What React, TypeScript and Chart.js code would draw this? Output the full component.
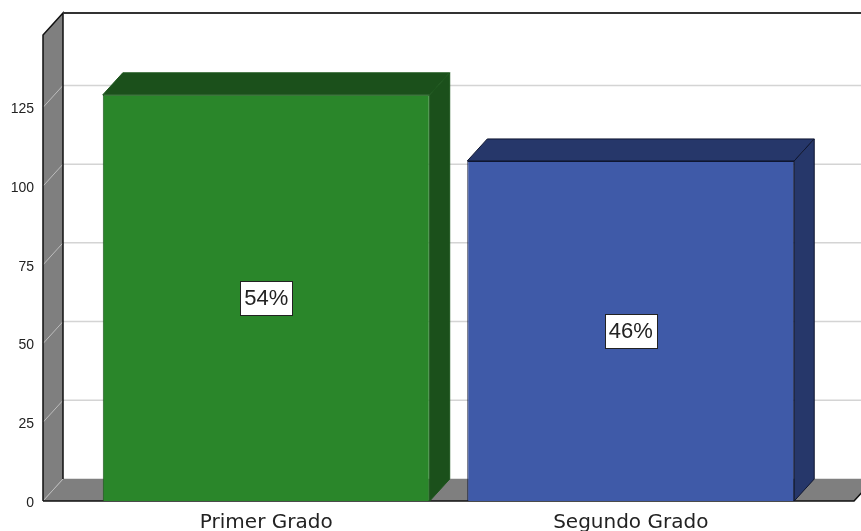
import React, { useEffect, useRef } from 'react';
import { Chart, registerables } from 'chart.js';

Chart.register(...registerables);

const categories = ['Primer Grado', 'Segundo Grado'];
const counts = [129, 108];
const frontColors = ['#2A862A', '#3F5AA8'];
const shadeColors = ['#1B501B', '#26376A'];
const edgeColors = ['#1D561D', '#0F1630'];
const yTickValues = [0, 25, 50, 75, 100, 125];
const yMax = 148;

const DX = 20;
const DY = 22;
const EXTRA = 41;
const WALL = '#7F7F7F';

const threeD = {
  id: 'threeD',
  beforeDatasetsDraw(chart: any) {
    const { ctx, chartArea: a, scales } = chart;
    const y = scales.y;
    const L = a.left - EXTRA;
    const R = a.right + EXTRA;
    const top = y.getPixelForValue(yMax);
    const base = y.getPixelForValue(0);
    ctx.save();
    // back wall gridlines
    ctx.lineWidth = 1.5;
    ctx.strokeStyle = '#D4D4D4';
    for (const v of yTickValues) {
      const py = y.getPixelForValue(v) - DY;
      ctx.beginPath();
      ctx.moveTo(L + DX, py);
      ctx.lineTo(chart.width, py);
      ctx.stroke();
    }
    // floor
    ctx.fillStyle = WALL;
    ctx.beginPath();
    ctx.moveTo(L, base);
    ctx.lineTo(R, base);
    ctx.lineTo(R + DX, base - DY);
    ctx.lineTo(L + DX, base - DY);
    ctx.closePath();
    ctx.fill();
    // left wall
    ctx.beginPath();
    ctx.moveTo(L, base);
    ctx.lineTo(L, top);
    ctx.lineTo(L + DX, top - DY);
    ctx.lineTo(L + DX, base - DY);
    ctx.closePath();
    ctx.fill();
    // diagonal gridlines on the wall
    ctx.strokeStyle = '#BDBDBD';
    ctx.lineWidth = 1;
    for (const v of yTickValues) {
      const py = y.getPixelForValue(v);
      ctx.beginPath();
      ctx.moveTo(L, py);
      ctx.lineTo(L + DX, py - DY);
      ctx.stroke();
    }
    // edges
    ctx.strokeStyle = '#111';
    ctx.lineWidth = 1.5;
    ctx.beginPath();
    ctx.moveTo(L, base);
    ctx.lineTo(L, top);
    ctx.lineTo(L + DX, top - DY);
    ctx.lineTo(L + DX, base - DY);
    ctx.stroke();
    ctx.beginPath();
    ctx.moveTo(L, base);
    ctx.lineTo(R, base);
    ctx.lineTo(R + DX, base - DY);
    ctx.stroke();
    ctx.strokeStyle = '#333';
    ctx.lineWidth = 2;
    ctx.beginPath();
    ctx.moveTo(L + DX, top - DY);
    ctx.lineTo(chart.width, top - DY);
    ctx.stroke();

    // bar top and side faces
    const meta = chart.getDatasetMeta(0);
    meta.data.forEach((bar: any, i: number) => {
      const x1 = bar.x - bar.width / 2;
      const x2 = bar.x + bar.width / 2;
      const yt = bar.y;
      const yb = bar.base;
      ctx.fillStyle = shadeColors[i];
      ctx.strokeStyle = edgeColors[i];
      ctx.lineWidth = 1;
      ctx.beginPath();
      ctx.moveTo(x1, yt);
      ctx.lineTo(x2, yt);
      ctx.lineTo(x2 + DX, yt - DY);
      ctx.lineTo(x1 + DX, yt - DY);
      ctx.closePath();
      ctx.fill();
      ctx.stroke();
      ctx.beginPath();
      ctx.moveTo(x2, yt);
      ctx.lineTo(x2 + DX, yt - DY);
      ctx.lineTo(x2 + DX, yb - DY);
      ctx.lineTo(x2, yb);
      ctx.closePath();
      ctx.fill();
      ctx.stroke();
    });
    ctx.restore();
  },
  afterDatasetsDraw(chart: any) {
    const { ctx } = chart;
    const total = counts.reduce((s, v) => s + v, 0);
    const meta = chart.getDatasetMeta(0);
    ctx.save();
    ctx.font = '22px "Liberation Sans", Arial, sans-serif';
    ctx.textAlign = 'center';
    ctx.textBaseline = 'middle';
    meta.data.forEach((bar: any, i: number) => {
      const text = Math.round((counts[i] / total) * 100) + '%';
      const cx = bar.x;
      const cy = (bar.y + bar.base) / 2;
      const w = ctx.measureText(text).width + 8;
      const h = 34;
      ctx.fillStyle = '#FFFFFF';
      ctx.fillRect(Math.round(cx - w / 2) + 0.5, Math.round(cy - h / 2) + 0.5, Math.round(w), h);
      ctx.strokeStyle = '#222';
      ctx.lineWidth = 1;
      ctx.strokeRect(Math.round(cx - w / 2) + 0.5, Math.round(cy - h / 2) + 0.5, Math.round(w), h);
      ctx.fillStyle = '#222';
      ctx.fillText(text, cx, cy + 1);
    });
    ctx.restore();
  },
};

export default function App() {
  const ref = useRef<HTMLCanvasElement>(null);
  useEffect(() => {
    if (!ref.current) return;
    const chart = new Chart(ref.current, {
      type: 'bar',
      data: {
        labels: categories,
        datasets: [
          {
            data: counts,
            backgroundColor: frontColors,
            borderColor: edgeColors,
            borderWidth: 1,
            barPercentage: 0.897,
            categoryPercentage: 1,
          },
        ],
      },
      options: {
        responsive: false,
        animation: false,
        devicePixelRatio: 1,
        layout: { padding: { left: 0, right: 48, top: 35, bottom: 0 } },
        plugins: { legend: { display: false }, tooltip: { enabled: false } },
        scales: {
          x: {
            grid: { display: false, drawTicks: false },
            border: { display: false },
            ticks: {
              padding: 10,
              color: '#222',
              font: { family: '"DejaVu Sans", sans-serif', size: 20 },
              maxRotation: 0,
            },
            afterFit: (s: any) => {
              s.height = 30;
              s.paddingLeft = 0;
              s.paddingRight = 0;
            },
          },
          y: {
            min: 0,
            max: yMax,
            grid: { display: false, drawTicks: false },
            border: { display: false },
            ticks: {
              stepSize: 25,
              padding: 50,
              labelOffset: 2,
              color: '#222',
              font: { family: '"Liberation Sans", Arial, sans-serif', size: 14 },
            },
            afterBuildTicks: (s: any) => {
              s.ticks = yTickValues.map((v) => ({ value: v }));
            },
            afterFit: (s: any) => {
              s.width = 84;
              s.paddingTop = 0;
              s.paddingBottom = 0;
            },
          },
        },
      },
      plugins: [threeD],
    });
    return () => chart.destroy();
  }, []);
  return (
    <div style={{ position: 'absolute', left: 0, top: 0, width: 861, height: 531, background: '#fff' }}>
      <canvas ref={ref} width={861} height={531} />
    </div>
  );
}
